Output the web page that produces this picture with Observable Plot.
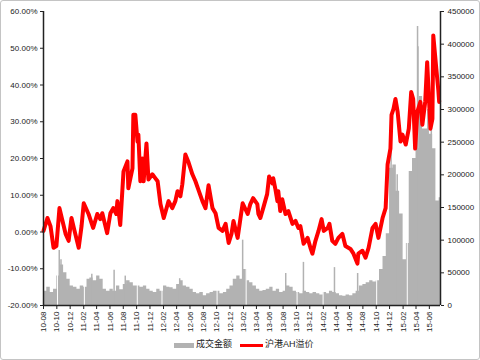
<!DOCTYPE html>
<html><head><meta charset="utf-8">
<script src="https://cdn.jsdelivr.net/npm/d3@7"></script>
<script src="https://cdn.jsdelivr.net/npm/@observablehq/plot@0.6"></script>
<style>
body{margin:0;background:#fff;font-family:"Liberation Sans",Arial,"Noto Sans CJK SC",sans-serif;}
#frame{position:absolute;left:0;top:0;width:480px;height:360px;box-sizing:border-box;border:1px solid #c4c4c4;border-radius:3px;pointer-events:none;}
#chart{position:absolute;left:0;top:0;}
.lg{position:absolute;font-size:9px;color:#222;line-height:10px;white-space:nowrap;}
.sw{position:absolute;}
</style></head>
<body>
<div id="chart"></div>
<div class="sw" style="left:174px;top:343px;width:20px;height:5px;background:#b2b2b2"></div>
<div class="lg" style="left:196px;top:339px">成交金额</div>
<div class="sw" style="left:240px;top:344px;width:23px;height:3px;background:#ff0000"></div>
<div class="lg" style="left:265px;top:339px">沪港AH溢价</div>
<div id="frame"></div>
<script>
// ---- data ----
const seriesNames = ["成交金额", "沪港AH溢价"];
const xDomainStr = ["2010-08-01", "2015-07-22"];
const xTickLabels = ["10-08","10-10","10-12","11-02","11-04","11-06","11-08","11-10","11-12","12-02","12-04","12-06","12-08","12-10","12-12","13-02","13-04","13-06","13-08","13-10","13-12","14-02","14-04","14-06","14-08","14-10","14-12","15-02","15-04","15-06"];
const pctTicks = [-20,-10,0,10,20,30,40,50,60];
const volTicks = [0,50000,100000,150000,200000,250000,300000,350000,400000,450000];
const volMax = 450000;

// AH premium (%)
const redDates = ["2010-08-01","2010-08-19","2010-09-02","2010-09-16","2010-09-29","2010-10-13","2010-10-27","2010-11-10","2010-11-24","2010-12-07","2010-12-21","2011-01-09","2011-01-22","2011-02-01","2011-02-23","2011-03-16","2011-04-04","2011-04-18","2011-04-27","2011-05-19","2011-06-03","2011-06-16","2011-06-30","2011-07-05","2011-07-18","2011-08-02","2011-08-20","2011-08-24","2011-09-12","2011-09-16","2011-09-25","2011-10-05","2011-10-09","2011-10-18","2011-10-27","2011-11-02","2011-11-15","2011-11-24","2011-12-12","2011-12-26","2012-01-05","2012-01-18","2012-02-02","2012-02-24","2012-03-12","2012-03-26","2012-04-05","2012-04-18","2012-04-27","2012-05-11","2012-05-24","2012-06-12","2012-06-26","2012-07-09","2012-07-28","2012-08-11","2012-08-25","2012-09-12","2012-09-26","2012-10-10","2012-10-28","2012-11-11","2012-11-25","2012-12-08","2012-12-17","2013-01-05","2013-01-28","2013-02-20","2013-03-04","2013-03-17","2013-04-05","2013-04-10","2013-04-19","2013-05-02","2013-05-20","2013-05-29","2013-06-13","2013-06-17","2013-06-26","2013-07-06","2013-07-10","2013-07-19","2013-07-28","2013-08-12","2013-08-25","2013-09-13","2013-09-27","2013-10-10","2013-10-19","2013-11-03","2013-11-21","2013-12-04","2013-12-13","2013-12-27","2014-01-10","2014-01-24","2014-02-03","2014-02-21","2014-03-01","2014-03-14","2014-03-28","2014-04-11","2014-04-29","2014-05-13","2014-06-05","2014-06-19","2014-07-07","2014-07-11","2014-07-30","2014-08-13","2014-08-27","2014-09-14","2014-09-28","2014-10-11","2014-10-30","2014-11-13","2014-11-22","2014-12-05","2014-12-10","2014-12-19","2014-12-28","2015-01-07","2015-01-20","2015-01-29","2015-02-13","2015-02-27","2015-03-10","2015-03-19","2015-03-28","2015-04-07","2015-04-21","2015-04-30","2015-05-13","2015-05-22","2015-06-06","2015-06-15","2015-06-19","2015-07-03","2015-07-12","2015-07-16"];
const redValues = [0.3,3.8,1.6,-4.3,-3.8,6.5,3.0,-0.5,-2.4,3.8,0.3,-4.3,1.6,7.8,4.9,1.1,4.9,3.5,5.1,-0.3,5.1,6.5,4.9,8.4,1.9,16.5,19.2,11.9,17.3,31.9,31.9,24.6,26.5,13.8,20.0,13.8,24.1,14.3,15.7,14.6,13.8,7.6,3.8,8.4,6.5,8.4,11.1,9.7,13.0,21.1,19.2,15.7,13.8,11.6,8.4,6.5,12.7,6.5,5.1,1.1,0.3,2.2,-3.0,-0.5,3.0,-1.6,7.8,4.9,7.6,9.2,7.6,4.9,3.8,6.5,10.3,15.1,13.2,14.6,11.9,8.4,11.1,5.7,8.9,4.9,5.7,2.2,3.0,1.1,1.6,-3.2,-1.6,-4.3,-5.9,-2.4,0.3,3.5,0.3,1.1,2.2,-2.4,-3.2,-1.6,-0.5,-3.8,-4.6,-5.9,-8.6,-5.9,-5.1,-7.0,-4.3,1.1,2.2,-1.6,3.8,6.5,18.4,22.7,31.9,33.5,36.2,32.7,24.6,26.5,23.8,28.1,38.1,36.2,22.7,32.7,35.4,29.2,35.4,46.2,28.1,30.8,53.5,44.3,38.6,35.4];

// trading volume, half-monthly (1st and 16th), starting 2010-08
const volStart = "2010-08-01";
const volValues = [22000,28000, 20000,25000, 45000,62000, 50000,40000, 30000,28000,
  25000,30000, 28000,40000, 42000,38000, 45000,40000, 25000,22000, 25000,22000, 30000,24000, 32000,38000, 35000,30000, 30000,28000, 30000,25000, 22000,20000,
  25000,22000, 30000,28000, 27000,25000, 32000,38000, 30000,28000, 25000,20000, 18000,20000, 15000,18000, 20000,22000, 22000,18000, 20000,25000, 30000,40000,
  45000,40000, 55000,38000, 35000,30000, 25000,22000, 23000,25000, 28000,22000, 25000,20000, 22000,30000, 28000,22000, 20000,18000, 22000,20000, 18000,20000,
  18000,16000, 20000,18000, 22000,20000, 18000,15000, 14000,16000, 15000,18000, 22000,30000, 32000,35000, 38000,36000, 38000,55000, 75000,110000, 210000,215000,
  175000,140000, 70000,95000, 205000,225000, 240000,320000, 270000,270000, 262000,240000, 160000,165000];
// single-day volume spikes
const spikeDates = ["2010-10-12","2010-10-20","2011-03-10","2011-06-20","2011-08-10","2012-04-15","2013-01-28","2013-08-13","2013-11-02","2014-03-24","2014-07-08","2014-12-08","2015-01-05","2015-04-08","2015-04-10","2015-05-25","2015-06-10"];
const spikeValues = [84000,70000,48000,54000,45000,41000,100000,49000,66000,58000,49000,240000,200000,427000,396000,300000,290000];
// market holidays (no trading)
const gapDates = ["2010-10-04","2011-02-04","2011-10-04","2012-01-25","2012-10-03","2013-02-13","2013-10-04","2014-01-31","2014-10-03","2015-02-20"];

// ---- build ----
const parse = d3.utcParse("%Y-%m-%d");
const toPct = v => -20 + v / volMax * 80;
const fromPct = p => (p + 20) / 80 * volMax;
const xDomain = xDomainStr.map(parse);
const xTicks = xTickLabels.map(d3.utcParse("%y-%m"));
const base = -20;

const redData = redDates.map((d, i) => ({date: parse(d), v: redValues[i]}));
const s0 = parse(volStart);
const volData = volValues.map((v, i) => {
  const m = d3.utcMonth.offset(s0, Math.floor(i / 2));
  return {date: i % 2 ? d3.utcDay.offset(m, 15) : m, base, p: toPct(v)};
});
volData.push({date: xDomain[1], base, p: volData[volData.length - 1].p});
const spikes = spikeDates.map((d, i) => ({date: parse(d), base, p: toPct(spikeValues[i])}));
const gaps = gapDates.map(d => ({date: parse(d), base, top: toPct(volMax)}));

const grey = "#b2b2b2";
const plot = Plot.plot({
  width: 480, height: 335,
  marginLeft: 43, marginRight: 40, marginTop: 11, marginBottom: 30,
  style: {fontFamily: "'Liberation Sans', Arial, sans-serif", color: "#222", background: "transparent", overflow: "visible"},
  x: {type: "utc", domain: xDomain},
  y: {domain: [-20, 60]},
  marks: [
    Plot.areaY(volData, {x: "date", y1: "base", y2: "p", curve: "step-after", fill: grey}),
    Plot.ruleX(spikes, {x: "date", y1: "base", y2: "p", stroke: grey, strokeWidth: 1.5}),
    Plot.ruleX(gaps, {x: "date", y1: "base", y2: "top", stroke: "#fff", strokeWidth: 1}),
    Plot.line(redData, {x: "date", y: "v", stroke: "#ff0000", strokeWidth: 4, strokeLinejoin: "round"}),
    Plot.ruleY([base], {stroke: "#222", strokeWidth: 1.5}),
    Plot.ruleX(xDomain, {stroke: "#222", strokeWidth: 1.5}),
    Plot.axisY({anchor: "left", ticks: pctTicks, tickFormat: d => d.toFixed(2) + "%", tickSize: 3, tickPadding: 3, fontSize: 8, label: null}),
    Plot.axisY({anchor: "right", ticks: volTicks.map(toPct), tickFormat: p => String(Math.round(fromPct(p))), tickSize: 3, tickPadding: 4, fontSize: 8, label: null}),
    Plot.axisX({ticks: xTicks, tickFormat: d3.utcFormat("%y-%m"), tickRotate: -90, tickSize: 4, tickPadding: 2, fontSize: 8, label: null})
  ]
});
document.getElementById("chart").appendChild(plot);
</script>
</body></html>
